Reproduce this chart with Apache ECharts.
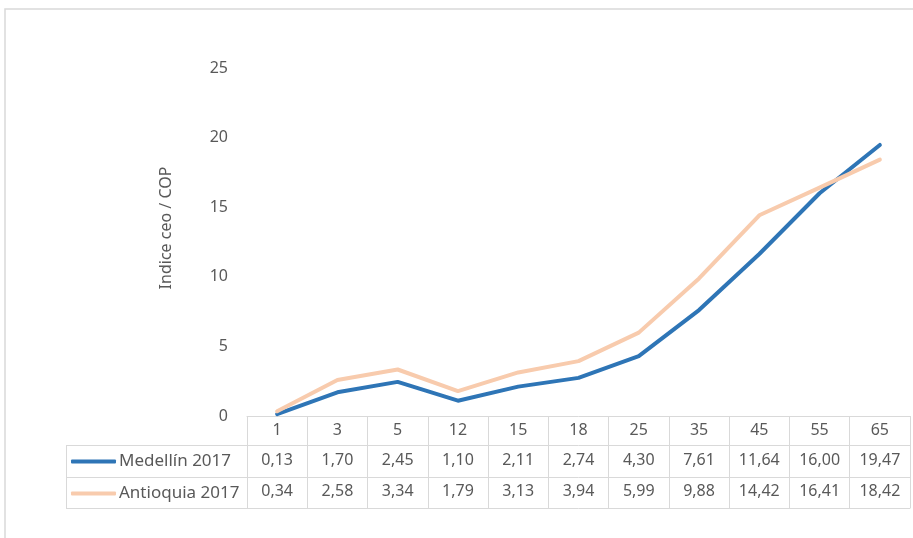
<!DOCTYPE html>
<html><head><meta charset="utf-8">
<script src="https://cdn.jsdelivr.net/npm/echarts@6/dist/echarts.min.js"></script>
<style>html,body{margin:0;padding:0;background:#fff}#c{width:913px;height:538px}</style>
</head><body><div id="c"></div>
<script>
var categories = ['1','3','5','12','15','18','25','35','45','55','65'];
var medellin = [0.13,1.70,2.45,1.10,2.11,2.74,4.30,7.61,11.64,16.00,19.47];
var antioquia = [0.34,2.58,3.34,1.79,3.13,3.94,5.99,9.88,14.42,16.41,18.42];
var seriesNames = ['Medellín 2017','Antioquia 2017'];
var yTitle = 'Indice ceo / COP';

var FONT = 'Noto Sans';
var TXT = '#595959';
var GRID = '#d9d9d9';
var gl = 247, gr = 910, gt = 68, gb = 416;
var rowY = [416, 445, 477, 508];
var tableLeft = 66;

function fmt(v){ return v.toFixed(2).replace('.', ','); }

var chart = echarts.init(document.getElementById('c'), null, {renderer:'canvas'});

function rowAxis(data, offset, showLabel, margin){
  return {
    type:'category', gridIndex:0, position:'bottom', offset:offset, data:data,
    boundaryGap:true,
    axisLine:{show:true, lineStyle:{color:GRID, width:1}},
    axisTick:{show:false},
    axisLabel:{show:showLabel, interval:0, color:TXT, fontFamily:FONT, fontSize:16, margin:margin},
    splitLine:{show:false}
  };
}

var option = {
  animation:false,
  backgroundColor:'#fff',
  grid:{left:gl, right:913-gr, top:gt, bottom:538-gb, containLabel:false},
  legend:{
    orient:'vertical', left:71, top:453, itemGap:15, padding:0,
    icon:'roundRect', itemWidth:45, itemHeight:4,
    textStyle:{color:TXT, fontFamily:FONT, fontSize:17, padding:[0,0,0,-2]},
    data:seriesNames
  },
  xAxis:[
    {
      type:'category', data:categories, boundaryGap:true, position:'bottom',
      axisLine:{show:true, lineStyle:{color:GRID, width:1}},
      axisTick:{show:true, length:rowY[3]-rowY[0], lineStyle:{color:GRID, width:1}},
      axisLabel:{interval:0, color:TXT, fontFamily:FONT, fontSize:16, margin:6},
      splitLine:{show:false}
    },
    rowAxis(medellin.map(fmt), rowY[1]-rowY[0], true, 7),
    rowAxis(antioquia.map(fmt), rowY[2]-rowY[0], true, 6),
    rowAxis(categories, rowY[3]-rowY[0], false, 0)
  ],
  yAxis:{
    type:'value', min:0, max:25, interval:5,
    axisLine:{show:false}, axisTick:{show:false}, splitLine:{show:false},
    axisLabel:{color:TXT, fontFamily:FONT, fontSize:16, margin:19}
  },
  series:[
    {name:seriesNames[0], type:'line', data:medellin, symbol:'none', showSymbol:false,
     color:'#2E75B6', lineStyle:{width:4, color:'#2E75B6', cap:'round', join:'round'}},
    {name:seriesNames[1], type:'line', data:antioquia, symbol:'none', showSymbol:false,
     color:'#F8CBAD', lineStyle:{width:4, color:'#F8CBAD', cap:'round', join:'round'}}
  ],
  graphic:[
    {type:'rect', silent:true, z:-1, shape:{x:5, y:9, width:1000, height:700},
     style:{fill:'none', stroke:GRID, lineWidth:1.5}},
    {type:'text', silent:true, x:166, y:228, rotation:Math.PI/2,
     style:{text:yTitle, fill:TXT, font:'16px "Noto Sans"', textAlign:'center', textVerticalAlign:'middle'}},
    {type:'line', silent:true, shape:{x1:tableLeft, y1:rowY[1]+0.5, x2:gl, y2:rowY[1]+0.5}, style:{stroke:GRID, lineWidth:1}},
    {type:'line', silent:true, shape:{x1:tableLeft, y1:rowY[2]+0.5, x2:gl, y2:rowY[2]+0.5}, style:{stroke:GRID, lineWidth:1}},
    {type:'line', silent:true, shape:{x1:tableLeft, y1:rowY[3]+0.5, x2:gl, y2:rowY[3]+0.5}, style:{stroke:GRID, lineWidth:1}},
    {type:'line', silent:true, shape:{x1:tableLeft+0.5, y1:rowY[1], x2:tableLeft+0.5, y2:rowY[3]}, style:{stroke:GRID, lineWidth:1}}
  ]
};
chart.setOption(option);
</script>
</body></html>
